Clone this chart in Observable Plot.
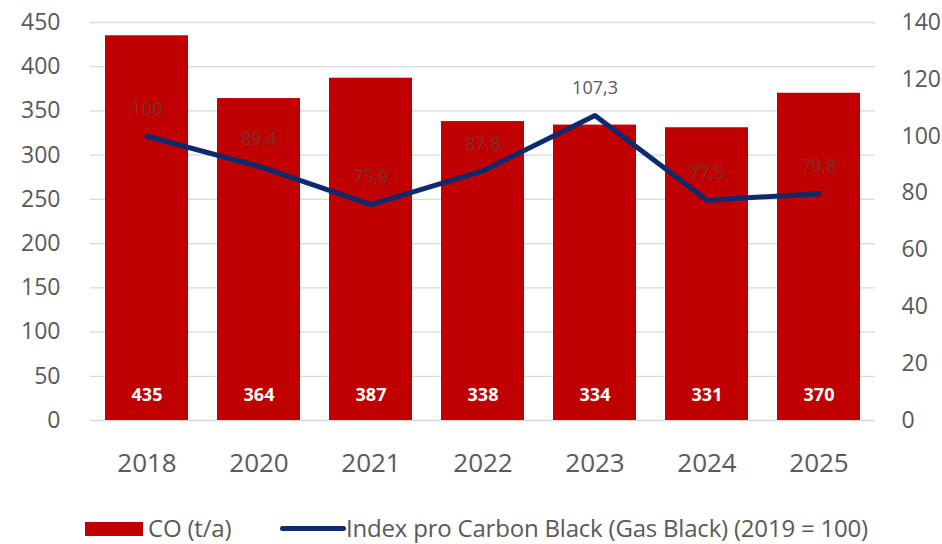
<!DOCTYPE html>
<html>
<head>
<meta charset="utf-8">
<script src="https://cdn.jsdelivr.net/npm/d3@7"></script>
<script src="https://cdn.jsdelivr.net/npm/@observablehq/plot@0.6"></script>
<style>
  body { margin: 0; background: #fff; font-family: "Open Sans", sans-serif; }
  #legend { position: relative; height: 40px; font-family: "Open Sans", sans-serif; font-size: 24px; color: #595959; }
  #legend .sw { position: absolute; }
  #legend .tx { position: absolute; top: 0; line-height: 40px; white-space: nowrap; letter-spacing: -0.2px; }
</style>
</head>
<body>
<div id="chart"></div>
<div id="legend">
  <span class="sw" style="left:85px;top:14px;width:58px;height:14px;background:#c00000"></span>
  <span class="tx" style="left:148px">CO (t/a)</span>
  <span class="sw" style="left:280px;top:18px;width:66px;height:5px;border-radius:3px;background:#0e2a6e"></span>
  <span class="tx" style="left:346px">Index pro Carbon Black (Gas Black) (2019 = 100)</span>
</div>
<script>
const years = ["2018", "2020", "2021", "2022", "2023", "2024", "2025"];
const co = [435, 364, 387, 338, 334, 331, 370];
const indexVals = [100, 89.4, 75.9, 87.8, 107.3, 77.5, 79.8];
const indexLabels = ["100", "89,4", "75,9", "87,8", "107,3", "77,5", "79,8"];
const leftTicks = [0, 50, 100, 150, 200, 250, 300, 350, 400, 450];
const rightTicks = [0, 20, 40, 60, 80, 100, 120, 140];

const leftMax = 450, rightMax = 140;
const toLeft = v => v * leftMax / rightMax;

const bars = years.map((y, i) => ({year: y, co: co[i]}));
const line = years.map((y, i) => ({year: y, idx: toLeft(indexVals[i]), label: indexLabels[i], onWhite: indexVals[i] > 105}));

const chart = Plot.plot({
  width: 942,
  height: 508,
  marginLeft: 90,
  marginRight: 67,
  marginTop: 22,
  marginBottom: 88,
  style: {fontFamily: "Open Sans, sans-serif", color: "#595959"},
  x: {domain: years, paddingInner: 0.26, paddingOuter: 0.125, label: null},
  y: {domain: [0, leftMax], label: null},
  marks: [
    Plot.gridY(leftTicks, {stroke: "#d9d9d9", strokeOpacity: 1, strokeWidth: 1.3}),
    Plot.barY(bars, {x: "year", y: "co", fill: "#c00000"}),
    Plot.text(bars, {x: "year", y: 0, text: d => String(d.co), fill: "white", fontWeight: "bold", fontSize: 18, dy: -25}),
    Plot.line(line, {x: "year", y: "idx", stroke: "#0e2a6e", strokeWidth: 5, strokeLinejoin: "round", strokeLinecap: "round"}),
    Plot.text(line, {x: "year", y: "idx", text: "label", fill: d => d.onWhite ? "#595959" : "#7a3030", fontSize: 18, dy: -27}),
    Plot.axisY(leftTicks, {anchor: "left", tickSize: 0, tickPadding: 30, fontSize: 23, label: null, fill: "#595959"}),
    Plot.axisY(rightTicks.map(toLeft), {anchor: "right", tickSize: 0, tickPadding: 26, fontSize: 23, label: null, fill: "#595959", textAnchor: "start", tickFormat: d => String(Math.round(d * rightMax / leftMax))}),
    Plot.axisX({tickSize: 0, tickPadding: 33, fontSize: 26, label: null, fill: "#595959"})
  ]
});
document.getElementById("chart").appendChild(chart);
</script>
</body>
</html>
